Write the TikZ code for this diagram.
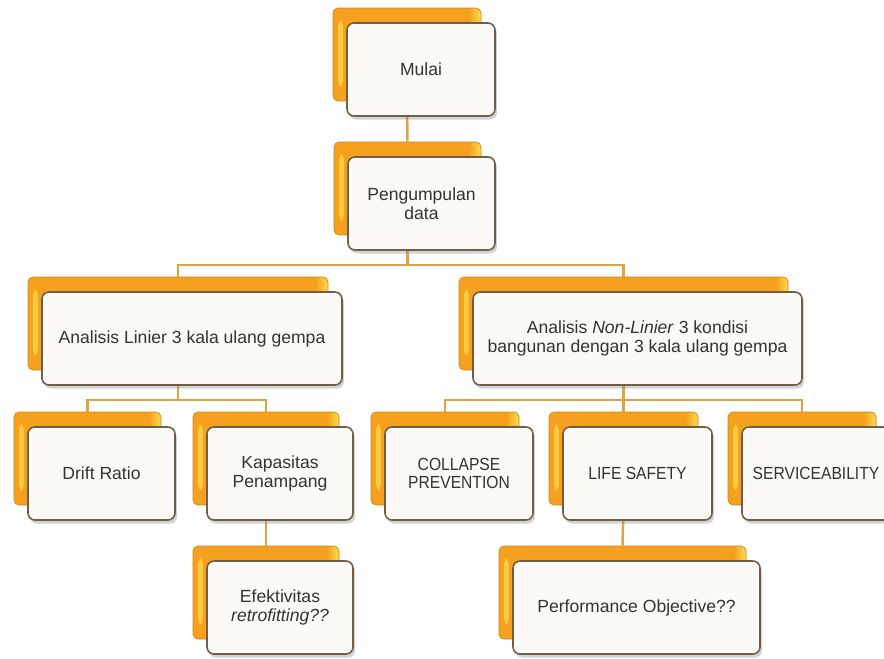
\documentclass[tikz,border=0pt]{standalone}
\usepackage{fontspec}
\setmainfont{Liberation Sans}
\newfontfamily\narrowfamily[FakeStretch=0.89]{Liberation Sans}
\usetikzlibrary{shadows,calc}
\definecolor{boxorange}{RGB}{245,160,30}
\definecolor{boxyellow}{RGB}{252,220,80}
\definecolor{boxedge}{RGB}{112,94,72}
\definecolor{boxfill}{RGB}{252,250,246}
\definecolor{linkcolor}{RGB}{222,164,66}
\tikzset{
  backbox/.style={
    shape = rectangle,
    draw=boxorange!85!black,
    line width=0.4pt,
    fill=boxorange,
    rounded corners=0.1cm,
    path picture={
      \fill[boxyellow!70!boxorange] ([xshift=0.1cm,yshift=-0.25cm]path picture bounding box.north west)
        rectangle ([xshift=0.2cm,yshift=0.3cm]path picture bounding box.south west);
      \shade[left color=boxorange, right color=boxyellow] ([xshift=-0.25cm]path picture bounding box.north east)
        rectangle (path picture bounding box.south east);
    },
    minimum width=#1,
    minimum height=1.86cm
  },
  frontbox/.style={
    draw=boxedge,
    line width=0.9pt,
    fill=boxfill,
    rounded corners=0.14cm,
    drop shadow={shadow xshift=0.04cm, shadow yshift=-0.07cm, opacity=0.35},
    minimum width=#1,
    minimum height=1.86cm,
    align=center,
    text=black!80,
    font=\fontsize{10}{10.5}\selectfont
  },
  capsfont/.style={
    font=\narrowfamily\fontsize{10}{10.5}\selectfont
  },
  link/.style={
    draw=linkcolor,
    line width=1.4pt
  }
}

\begin{document}
\begin{tikzpicture}
    \useasboundingbox (0,0) rectangle (17.68,-13.16);
    % back boxes
    \node[backbox=2.96cm] (mulaiB) at (8.14,-1.09) {};
    \node[backbox=2.94cm] (dataB) at (8.15,-3.77) {};
    \node[backbox=6.0cm] (linierB) at (3.56,-6.47) {};
    \node[backbox=6.58cm] (nonlinB) at (12.47,-6.47) {};
    \node[backbox=2.94cm] (driftB) at (1.75,-9.17) {};
    \node[backbox=2.92cm] (kapasB) at (5.32,-9.17) {};
    \node[backbox=2.92cm] (efektB) at (5.32,-11.85) {};
    \node[backbox=2.96cm] (collapseB) at (8.90,-9.17) {};
    \node[backbox=2.98cm] (lifeB) at (12.47,-9.17) {};
    \node[backbox=2.96cm] (serviceB) at (16.04,-9.17) {};
    \node[backbox=4.94cm] (perfB) at (12.45,-11.85) {};

    \coordinate (bus1) at (0,-5.3);
    \coordinate (bus2) at (0,-8.0);

    \draw[link] (mulaiB.south) -- (dataB.north);
    \draw[link] (dataB.south) -- (dataB.south |- bus1) -| (linierB.north);
    \draw[link] (dataB.south |- bus1) -| (nonlinB.north);
    \draw[link] (linierB.south) -- (linierB.south |- bus2) -| (driftB.north);
    \draw[link] (linierB.south |- bus2) -| (kapasB.north);
    \draw[link] (nonlinB.south) -- (nonlinB.south |- bus2) -| (collapseB.north);
    \draw[link] (nonlinB.south |- bus2) -- (lifeB.north);
    \draw[link] (nonlinB.south |- bus2) -| (serviceB.north);
    \draw[link] (kapasB.south) -- (efektB.north);
    \draw[link] (lifeB.south) -- (perfB.north);

    % front boxes
    \node[frontbox=2.96cm] (mulai) at ([shift={(0.28,-0.3)}]mulaiB.center) {Mulai};
    \node[frontbox=2.94cm] (data) at ([shift={(0.28,-0.3)}]dataB.center) {Pengumpulan\\data};
    \node[frontbox=6.0cm] (linier) at ([shift={(0.28,-0.3)}]linierB.center) {Analisis Linier 3 kala ulang gempa};
    \node[frontbox=6.58cm] (nonlin) at ([shift={(0.28,-0.3)}]nonlinB.center) {Analisis \textit{Non-Linier} 3 kondisi\\bangunan dengan 3 kala ulang gempa};
    \node[frontbox=2.94cm] (drift) at ([shift={(0.28,-0.3)}]driftB.center) {Drift Ratio};
    \node[frontbox=2.92cm] (kapas) at ([shift={(0.28,-0.3)}]kapasB.center) {Kapasitas\\Penampang};
    \node[frontbox=2.92cm] (efekt) at ([shift={(0.28,-0.3)}]efektB.center) {Efektivitas\\\textit{retrofitting??}};
    \node[frontbox=2.96cm, capsfont] (collapse) at ([shift={(0.28,-0.3)}]collapseB.center) {COLLAPSE\\PREVENTION};
    \node[frontbox=2.98cm, capsfont] (life) at ([shift={(0.28,-0.3)}]lifeB.center) {LIFE SAFETY};
    \node[frontbox=2.96cm, capsfont] (service) at ([shift={(0.28,-0.3)}]serviceB.center) {SERVICEABILITY};
    \node[frontbox=4.94cm] (perf) at ([shift={(0.28,-0.3)}]perfB.center) {Performance Objective??};
\end{tikzpicture}
\end{document}
